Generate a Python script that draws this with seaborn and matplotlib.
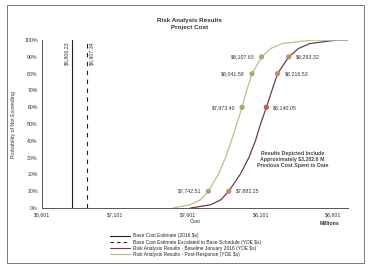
import matplotlib
matplotlib.use("Agg")
import matplotlib.pyplot as plt
import seaborn as sns
import pandas as pd
from matplotlib.patches import Rectangle
from matplotlib.lines import Line2D

sns.set_theme(style="white")
plt.rcParams['font.family'] = ['Liberation Sans', 'DejaVu Sans']

# Data
pct = [0.0, 0.02, 0.05, 0.10, 0.20, 0.30, 0.40, 0.50, 0.60, 0.70, 0.80, 0.90, 0.95, 0.98, 1.0, 1.0]
post_cost = [7500, 7620, 7690, 7742.51, 7810, 7860, 7900, 7937, 7973.40, 8005, 8041.58, 8107.63, 8170, 8250, 8450, 8700]
base_cost = [7620, 7760, 7830, 7882.25, 7960, 8020, 8065, 8100, 8140.05, 8178, 8216.53, 8293.32, 8360, 8440, 8620, 8700]

marker_pct = [0.10, 0.60, 0.80, 0.90]
post_marks = [7742.51, 7973.40, 8041.58, 8107.63]
base_marks = [7882.25, 8140.05, 8216.53, 8293.32]

base_estimate = 6806.23
escalated_estimate = 6907.34

xticks = [6601, 7101, 7601, 8101, 8601]
xtick_labels = ["$6,601", "$7,101", "$7,601", "$8,101", "$8,601"]
yticks = [0, 0.1, 0.2, 0.3, 0.4, 0.5, 0.6, 0.7, 0.8, 0.9, 1.0]

legend_labels = ["Base Cost Estimate (2016 $s)",
                 "Base Cost Estimate Escalated to Base Schedule (YOE $s)",
                 "Risk Analysis Results - Baseline January 2016 (YOE $s)",
                 "Risk Analysis Results - Post-Response (YOE $s)"]

green_line = "#b3c28a"
green_mark = "#9caf6c"
red_line = "#6f3c4c"
red_mark = "#c98a5a"

fig = plt.figure(figsize=(3.7, 2.64), dpi=100)
ax = fig.add_axes([0.1135, 0.212, 0.827, 0.636])

df_post = pd.DataFrame({"cost": post_cost, "p": pct})
df_base = pd.DataFrame({"cost": base_cost, "p": pct})
sns.lineplot(data=df_base, x="cost", y="p", ax=ax, color=red_line, lw=0.9, sort=False, estimator=None)
sns.lineplot(data=df_post, x="cost", y="p", ax=ax, color=green_line, lw=0.9, sort=False, estimator=None)

ax.axvline(base_estimate, color="#222222", lw=0.8)
ax.axvline(escalated_estimate, color="#222222", lw=0.8, ls=(0, (4, 4)))

sns.scatterplot(x=post_marks, y=marker_pct, ax=ax, color=green_mark, s=14, marker="o", edgecolor="none", zorder=5)
base_colors = [red_mark, "#cc5544", red_mark, red_mark]
ax.scatter(base_marks, marker_pct, c=base_colors, s=14, zorder=5, edgecolors="none")

fs = 3.8
for c, p in zip(post_marks, marker_pct):
    ax.annotate(f"${c:,.2f}", (c, p), xytext=(-5, 0), textcoords="offset points",
                ha="right", va="center", fontsize=fs, color="#333333")
for c, p in zip(base_marks, marker_pct):
    ax.annotate(f"${c:,.2f}", (c, p), xytext=(5, 0), textcoords="offset points",
                ha="left", va="center", fontsize=fs, color="#333333")

ax.annotate(f"${base_estimate:,.2f}", (base_estimate, 0.995), xytext=(-2, 0), textcoords="offset points",
            rotation=90, ha="right", va="top", fontsize=fs, color="#333333")
ax.annotate(f"${escalated_estimate:,.2f}", (escalated_estimate, 0.995), xytext=(2, 0), textcoords="offset points",
            rotation=90, ha="left", va="top", fontsize=fs, color="#333333")

ax.text(8320, 0.29, "Results Depicted Include\nApproximately $3,282.6 M\nPrevious Cost Spent to Date",
        ha="center", va="center", fontsize=3.8, fontweight="bold", color="#444444", linespacing=1.3)

ax.set_xlim(6601, 8700)
ax.set_ylim(0, 1.0)
ax.set_xticks(xticks)
ax.set_xticklabels(xtick_labels)
ax.set_yticks(yticks)
ax.set_yticklabels([f"{int(round(v*100))}%" for v in yticks])
ax.tick_params(axis="both", labelsize=fs, length=0, pad=3, colors="#333333")
for s in ["top", "right"]:
    ax.spines[s].set_visible(False)
for s in ["left", "bottom"]:
    ax.spines[s].set_color("#555555")
    ax.spines[s].set_linewidth(0.7)
ax.set_xlabel("Cost", fontsize=fs, labelpad=1, color="#333333")
ax.set_ylabel("Probability of Not Exceeding", fontsize=fs, labelpad=6, color="#333333")
ax.text(0.94, -0.08, "Millions", transform=ax.transAxes, ha="center", va="top",
        fontsize=fs, fontweight="bold", color="#333333")

fig.text(0.513, 0.909, "Risk Analysis Results\nProject Cost", ha="center", va="center",
         fontsize=4.5, fontweight="bold", color="#333333", linespacing=1.3)

handles = [Line2D([], [], color="#222222", lw=0.8),
           Line2D([], [], color="#222222", lw=0.8, ls=(0, (3, 3))),
           Line2D([], [], color=red_line, lw=0.8),
           Line2D([], [], color=green_line, lw=0.8)]
fig.legend(handles, legend_labels, loc="upper left", bbox_to_anchor=(0.29, 0.125),
           frameon=False, fontsize=3.5, handlelength=4.2, handletextpad=0.6,
           labelspacing=0.25, borderpad=0)

fig.patches.append(Rectangle((0.02, 0.005), 0.965, 0.975, transform=fig.transFigure,
                             fill=False, edgecolor="#777777", lw=0.7))

fig.savefig("out.png", dpi=100)
